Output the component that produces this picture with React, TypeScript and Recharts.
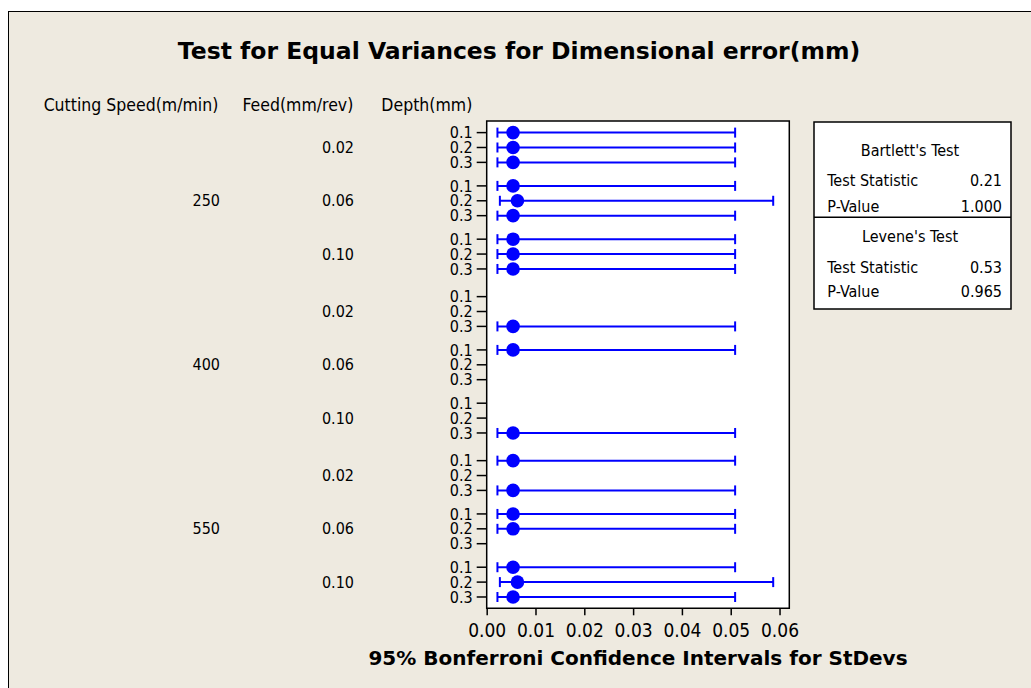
import React from 'react';
import {
  ScatterChart,
  Scatter,
  XAxis,
  YAxis,
  ErrorBar,
  ReferenceArea,
} from 'recharts';

// Factor levels
const cuttingSpeeds = ['250', '400', '550'];
const feeds = ['0.02', '0.06', '0.10'];
const depths = ['0.1', '0.2', '0.3'];

// One entry per cell, ordered speed > feed > depth (null = not estimable)
const stdevEstimates: (number | null)[] = [
  0.0053, 0.0053, 0.0053,
  0.0053, 0.0062, 0.0053,
  0.0053, 0.0053, 0.0053,
  null, null, 0.0053,
  0.0053, null, null,
  null, null, 0.0053,
  0.0053, null, 0.0053,
  0.0053, 0.0053, null,
  0.0053, 0.0062, 0.0053,
];
const lowerBounds: (number | null)[] = [
  0.0021, 0.0021, 0.0021,
  0.0021, 0.0026, 0.0021,
  0.0021, 0.0021, 0.0021,
  null, null, 0.0021,
  0.0021, null, null,
  null, null, 0.0021,
  0.0021, null, 0.0021,
  0.0021, 0.0021, null,
  0.0021, 0.0026, 0.0021,
];
const upperBounds: (number | null)[] = [
  0.0508, 0.0508, 0.0508,
  0.0508, 0.0586, 0.0508,
  0.0508, 0.0508, 0.0508,
  null, null, 0.0508,
  0.0508, null, null,
  null, null, 0.0508,
  0.0508, null, 0.0508,
  0.0508, 0.0508, null,
  0.0508, 0.0586, 0.0508,
];

const xTicks = [0, 0.01, 0.02, 0.03, 0.04, 0.05, 0.06];

// Equal-variance test results
const testNames = ["Bartlett's Test", "Levene's Test"];
const testStatistics = ['0.21', '0.53'];
const pValues = ['1.000', '0.965'];

// Row layout: unit step between depths, wider gaps between feed and speed blocks
const FEED_GAP = 1.58;
const SPEED_GAP = 1.86;
const FEED_BLOCK = 2 + FEED_GAP;
const SPEED_BLOCK = 3 * 2 + 2 * FEED_GAP + SPEED_GAP;
const rowPos = (s: number, f: number, d: number) => s * SPEED_BLOCK + f * FEED_BLOCK + d;

const depthTicks: number[] = [];
const feedTicks: number[] = [];
const speedTicks: number[] = [];
const points: { x: number; y: number; err: [number, number] }[] = [];
cuttingSpeeds.forEach((_, s) => {
  speedTicks.push(rowPos(s, 1, 1));
  feeds.forEach((__, f) => {
    feedTicks.push(rowPos(s, f, 1));
    depths.forEach((___, d) => {
      const y = rowPos(s, f, d);
      depthTicks.push(y);
      const i = s * 9 + f * 3 + d;
      const v = stdevEstimates[i];
      const lo = lowerBounds[i];
      const hi = upperBounds[i];
      if (v != null && lo != null && hi != null) {
        points.push({ x: v, y, err: [v - lo, hi - v] });
      }
    });
  });
});

const Y_DOMAIN: [number, number] = [-0.78, rowPos(2, 2, 2) + 0.76];
const X_DOMAIN: [number, number] = [-0.0001, 0.0619];

const BLUE = '#0000FF';
const BG = '#EEEAE0';
const FONT = "'DejaVu Sans Condensed', 'DejaVu Sans', sans-serif";
const BOLD_FONT = "'DejaVu Sans', sans-serif";

const Dot = (props: any) => (
  <circle cx={props.cx} cy={props.cy} r={6.8} fill={BLUE} />
);

const tickStyle = { fill: '#000', fontSize: 16, fontFamily: FONT };

export default function App() {
  return (
    <div
      style={{
        position: 'absolute',
        left: 0,
        top: 0,
        width: 1031,
        height: 688,
        background: '#fff',
        overflow: 'hidden',
      }}
    >
      <div
        style={{
          position: 'absolute',
          left: 8,
          top: 11,
          width: 1100,
          height: 800,
          background: BG,
          borderLeft: '1px solid #000',
          borderTop: '1px solid #000',
        }}
      />
      <div style={{ position: 'absolute', left: 0, top: 0 }}>
        <ScatterChart
          width={1031}
          height={688}
          margin={{ top: 121, right: 241.7, bottom: 49.7, left: 112 }}
        >
          <ReferenceArea
            yAxisId="depth"
            x1={X_DOMAIN[0]}
            x2={X_DOMAIN[1]}
            y1={Y_DOMAIN[0]}
            y2={Y_DOMAIN[1]}
            fill="#fff"
            fillOpacity={1}
            stroke="#000"
            strokeWidth={1.5}
            ifOverflow="visible"
          />
          <XAxis
            type="number"
            dataKey="x"
            domain={X_DOMAIN}
            allowDataOverflow
            ticks={xTicks}
            tickFormatter={(v: number) => v.toFixed(2)}
            axisLine={false}
            tickLine={{ stroke: '#000', strokeWidth: 1.5 }}
            tickSize={7}
            tickMargin={8}
            height={30}
            interval={0}
            tick={{ fill: '#000', fontSize: 19, fontFamily: FONT }}
          />
          <YAxis
            yAxisId="depth"
            type="number"
            dataKey="y"
            domain={Y_DOMAIN}
            allowDataOverflow
            reversed
            ticks={depthTicks}
            interval={0}
            tickFormatter={(_v: number, i: number) => depths[i % 3]}
            axisLine={false}
            tickLine={{ stroke: '#000', strokeWidth: 1.5 }}
            tickSize={10}
            tickMargin={4}
            width={124.7}
            tick={tickStyle}
          />
          <YAxis
            yAxisId="feed"
            type="number"
            domain={Y_DOMAIN}
            allowDataOverflow
            reversed
            ticks={feedTicks}
            interval={0}
            tickFormatter={(_v: number, i: number) => feeds[i % 3]}
            axisLine={false}
            tickLine={false}
            tickSize={0}
            tickMargin={8}
            width={125}
            tick={tickStyle}
          />
          <YAxis
            yAxisId="speed"
            type="number"
            domain={Y_DOMAIN}
            allowDataOverflow
            reversed
            ticks={speedTicks}
            interval={0}
            tickFormatter={(_v: number, i: number) => cuttingSpeeds[i]}
            axisLine={false}
            tickLine={false}
            tickSize={0}
            tickMargin={17}
            width={125}
            tick={tickStyle}
          />
          <Scatter
            yAxisId="depth"
            data={points}
            shape={Dot}
            isAnimationActive={false}
          >
            <ErrorBar
              dataKey="err"
              direction="x"
              width={5}
              stroke={BLUE}
              strokeWidth={2}
              isAnimationActive={false}
            />
          </Scatter>
        </ScatterChart>
      </div>
      <svg
        width={1031}
        height={688}
        style={{ position: 'absolute', left: 0, top: 0, pointerEvents: 'none' }}
      >
        <text x={519} y={59} textAnchor="middle" fontFamily={BOLD_FONT} fontWeight="bold" fontSize={23.5} fill="#000">
          Test for Equal Variances for Dimensional error(mm)
        </text>
        <g fontFamily={FONT} fontSize={17.5} fill="#000" textAnchor="end">
          <text x={218.3} y={111}>Cutting Speed(m/min)</text>
          <text x={353.3} y={111}>Feed(mm/rev)</text>
          <text x={472.3} y={111}>Depth(mm)</text>
        </g>
        <text x={638} y={665} textAnchor="middle" fontFamily={BOLD_FONT} fontWeight="bold" fontSize={20} fill="#000">
          95% Bonferroni Confidence Intervals for StDevs
        </text>
        <g fontFamily={FONT} fontSize={16} fill="#000">
          <rect x={814} y={122} width={197} height={187} fill="#fff" stroke="#000" strokeWidth={1.5} />
          <line x1={814} x2={1011} y1={217.3} y2={217.3} stroke="#000" strokeWidth={1.5} />
          {testNames.map((name, i) => {
            const top = i === 0 ? 155.7 : 241.7;
            const statY = i === 0 ? 186 : 273.3;
            const pY = i === 0 ? 211.7 : 297.3;
            return (
              <g key={name}>
                <text x={910} y={top} textAnchor="middle">{name}</text>
                <text x={827.3} y={statY}>Test Statistic</text>
                <text x={1002} y={statY} textAnchor="end">{testStatistics[i]}</text>
                <text x={827.3} y={pY}>P-Value</text>
                <text x={1002} y={pY} textAnchor="end">{pValues[i]}</text>
              </g>
            );
          })}
        </g>
      </svg>
    </div>
  );
}
